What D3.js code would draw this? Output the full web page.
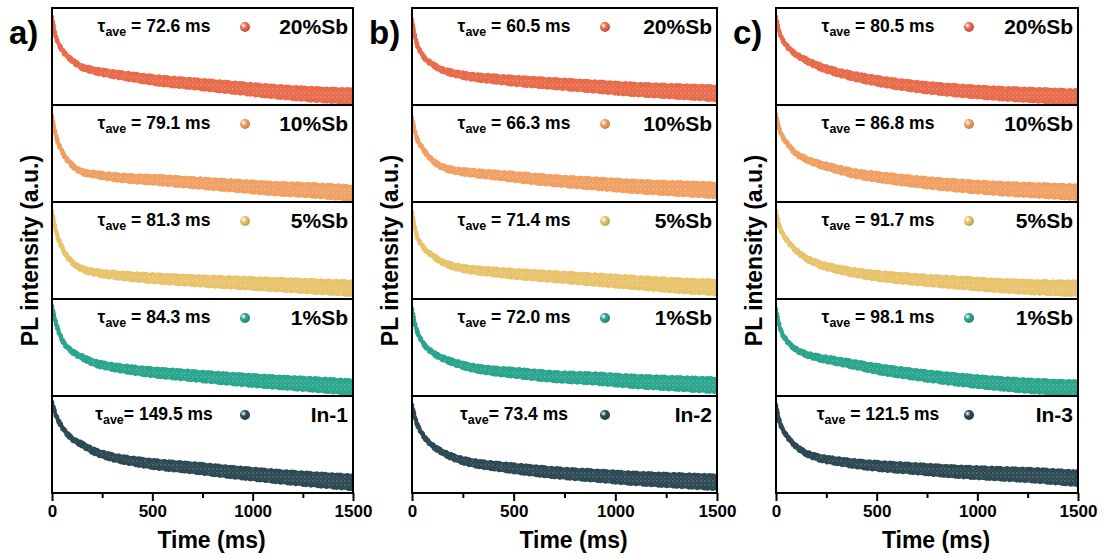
<!DOCTYPE html>
<html><head><meta charset="utf-8">
<script src="https://cdn.jsdelivr.net/npm/d3@7"></script>
<style>
html,body{margin:0;padding:0;background:#fff;}
svg text{font-family:"Liberation Sans",Arial,sans-serif;font-weight:bold;fill:#000;}
</style></head>
<body><svg id="chart" width="1106" height="559"></svg>
<script>
// ---- data (normalized intensity within each stacked sub-panel, 0 = bottom, 1 = top) ----
const timesMs = [0, 20, 50, 100, 150, 200, 300, 400, 500, 700, 900, 1100, 1300, 1500];
const spreadFrac = [0.008, 0.01, 0.012, 0.016, 0.02, 0.024, 0.03, 0.035, 0.04, 0.046, 0.052, 0.058, 0.064, 0.07];
const xTicksMajor = [0, 500, 1000, 1500];
const xTicksMinor = [250, 750, 1250];
const sampleNames = ["20%Sb", "10%Sb", "5%Sb", "1%Sb"];
const undopedNames = ["In-1", "In-2", "In-3"];
const panelLetters = ["a)", "b)", "c)"];
const sampleColors = ["#e86b4b", "#f1a063", "#e9c36c", "#2aa58e", "#2c4954"];

const tauA = [" = 72.6 ms", " = 79.1 ms", " = 81.3 ms", " = 84.3 ms", "= 149.5 ms"];
const tauB = [" = 60.5 ms", " = 66.3 ms", " = 71.4 ms", " = 72.0 ms", "= 73.4 ms"];
const tauC = [" = 80.5 ms", " = 86.8 ms", " = 91.7 ms", " = 98.1 ms", " = 121.5 ms"];

const decayA20 = [0.90, 0.70, 0.57, 0.46, 0.39, 0.36, 0.32, 0.29, 0.26, 0.22, 0.18, 0.14, 0.11, 0.09];
const decayA10 = [0.88, 0.68, 0.52, 0.38, 0.31, 0.29, 0.26, 0.24, 0.23, 0.20, 0.17, 0.14, 0.12, 0.09];
const decayA5  = [0.90, 0.70, 0.53, 0.38, 0.31, 0.28, 0.25, 0.23, 0.215, 0.19, 0.17, 0.15, 0.13, 0.11];
const decayA1  = [0.92, 0.75, 0.58, 0.46, 0.40, 0.35, 0.30, 0.27, 0.245, 0.21, 0.175, 0.145, 0.12, 0.09];
const decayAIn = [0.93, 0.80, 0.68, 0.56, 0.50, 0.44, 0.37, 0.33, 0.30, 0.26, 0.215, 0.175, 0.14, 0.11];

const decayB20 = [0.87, 0.66, 0.52, 0.42, 0.36, 0.33, 0.29, 0.27, 0.25, 0.22, 0.19, 0.16, 0.14, 0.12];
const decayB10 = [0.87, 0.68, 0.56, 0.43, 0.36, 0.33, 0.30, 0.28, 0.26, 0.22, 0.19, 0.16, 0.14, 0.12];
const decayB5  = [0.89, 0.68, 0.55, 0.45, 0.38, 0.34, 0.30, 0.28, 0.26, 0.23, 0.20, 0.17, 0.14, 0.12];
const decayB1  = [0.89, 0.70, 0.56, 0.45, 0.39, 0.35, 0.29, 0.26, 0.24, 0.20, 0.18, 0.15, 0.13, 0.11];
const decayBIn = [0.90, 0.74, 0.61, 0.49, 0.42, 0.37, 0.31, 0.28, 0.255, 0.21, 0.18, 0.15, 0.13, 0.11];

const decayC20 = [0.90, 0.73, 0.62, 0.52, 0.46, 0.41, 0.34, 0.29, 0.25, 0.19, 0.15, 0.12, 0.10, 0.08];
const decayC10 = [0.90, 0.73, 0.62, 0.50, 0.44, 0.40, 0.34, 0.29, 0.26, 0.21, 0.17, 0.14, 0.12, 0.10];
const decayC5  = [0.90, 0.73, 0.62, 0.50, 0.42, 0.37, 0.31, 0.27, 0.24, 0.20, 0.17, 0.14, 0.12, 0.11];
const decayC1  = [0.89, 0.70, 0.58, 0.48, 0.43, 0.40, 0.36, 0.32, 0.28, 0.22, 0.17, 0.13, 0.10, 0.08];
const decayCIn = [0.90, 0.72, 0.60, 0.48, 0.41, 0.37, 0.33, 0.30, 0.28, 0.25, 0.22, 0.20, 0.18, 0.15];

const panels = [
  {letter: panelLetters[0], x0: 52, x1: 353, taus: tauA, last: undopedNames[0],
   curves: [decayA20, decayA10, decayA5, decayA1, decayAIn]},
  {letter: panelLetters[1], x0: 412, x1: 717, taus: tauB, last: undopedNames[1],
   curves: [decayB20, decayB10, decayB5, decayB1, decayBIn]},
  {letter: panelLetters[2], x0: 776, x1: 1078, taus: tauC, last: undopedNames[2],
   curves: [decayC20, decayC10, decayC5, decayC1, decayCIn]}
];

// ---- drawing ----
const svg = d3.select("#chart");
const plotTop = 8, plotBottom = 493, nSub = 5;
const subH = (plotBottom - plotTop) / nSub;
const defs = svg.append("defs");

const pat = defs.append("pattern").attr("id", "speckle").attr("width", 4).attr("height", 4)
  .attr("patternUnits", "userSpaceOnUse");
pat.append("circle").attr("cx", 1).attr("cy", 1).attr("r", 0.7).attr("fill", "#fff").attr("opacity", 0.4);
pat.append("circle").attr("cx", 3).attr("cy", 3).attr("r", 0.6).attr("fill", "#fff").attr("opacity", 0.25);

sampleColors.forEach((c, i) => {
  const g = defs.append("radialGradient").attr("id", "sph" + i)
    .attr("cx", "35%").attr("cy", "35%").attr("r", "65%");
  g.append("stop").attr("offset", "0%").attr("stop-color", "#fff");
  g.append("stop").attr("offset", "45%").attr("stop-color", c);
  g.append("stop").attr("offset", "100%").attr("stop-color", d3.color(c).darker(0.6));
});

panels.forEach((p, pi) => {
  const g = svg.append("g");
  const x = d3.scaleLinear().domain([0, 1500]).range([p.x0, p.x1]);

  p.curves.forEach((vals, si) => {
    const t = plotTop + si * subH, b = t + subH;
    const y = d3.scaleLinear().domain([0, 1]).range([b, t]);
    const clipId = `clip${pi}_${si}`;
    defs.append("clipPath").attr("id", clipId).append("rect")
      .attr("x", p.x0).attr("y", t).attr("width", p.x1 - p.x0).attr("height", subH);
    const rows = timesMs.map((tm, k) => ({t: tm, v: vals[k], s: spreadFrac[k]}));
    const area = d3.area().curve(d3.curveMonotoneX)
      .x(d => x(d.t)).y0(d => y(d.v - d.s)).y1(d => y(d.v + d.s));
    const cg = g.append("g").attr("clip-path", `url(#${clipId})`);
    const col = sampleColors[si];
    cg.append("path").datum(rows).attr("d", area).attr("fill", col)
      .attr("stroke", col).attr("stroke-width", 3).attr("stroke-linejoin", "round");
    cg.append("path").datum(rows).attr("d", area).attr("fill", "url(#speckle)");
    cg.append("path").datum(rows).attr("d", area).attr("fill", "none")
      .attr("stroke", col).attr("stroke-width", 4.5).attr("stroke-linecap", "round")
      .attr("stroke-dasharray", "0.1 5 0.1 3 0.1 7");

    const name = si < 4 ? sampleNames[si] : p.last;
    g.append("circle").attr("cx", p.x0 + 193).attr("cy", t + 19).attr("r", 5)
      .attr("fill", `url(#sph${si})`);
    g.append("text").attr("x", p.x1 - 5).attr("y", t + 26).attr("text-anchor", "end")
      .attr("font-size", 21).text(name);
    const tx = g.append("text").attr("x", p.x0 + 102).attr("y", t + 24)
      .attr("text-anchor", "middle").attr("font-size", 17.5);
    tx.append("tspan").text("τ");
    tx.append("tspan").attr("font-size", 12.5).attr("dy", 4).text("ave");
    tx.append("tspan").attr("dy", -4).text(p.taus[si]);

    if (si > 0) {
      g.append("line").attr("x1", p.x0).attr("x2", p.x1).attr("y1", t).attr("y2", t)
        .attr("stroke", "#000").attr("stroke-width", 2);
    }
  });

  g.append("rect").attr("x", p.x0).attr("y", plotTop).attr("width", p.x1 - p.x0)
    .attr("height", plotBottom - plotTop).attr("fill", "none").attr("stroke", "#000").attr("stroke-width", 2);

  const axMajor = d3.axisBottom(x).tickValues(xTicksMajor).tickSize(8).tickPadding(4).tickFormat(d3.format("d"));
  const ax = g.append("g").attr("transform", `translate(0,${plotBottom})`).call(axMajor);
  ax.select(".domain").remove();
  ax.selectAll(".tick line").attr("stroke", "#000").attr("stroke-width", 2);
  ax.selectAll(".tick text").attr("font-size", 17).attr("font-family", "Liberation Sans, Arial, sans-serif")
    .attr("font-weight", "bold").attr("fill", "#000");
  const axMinor = d3.axisBottom(x).tickValues(xTicksMinor).tickSize(5).tickFormat("");
  const axm = g.append("g").attr("transform", `translate(0,${plotBottom})`).call(axMinor);
  axm.select(".domain").remove();
  axm.selectAll(".tick line").attr("stroke", "#000").attr("stroke-width", 2);

  g.append("text").attr("x", (p.x0 + p.x1) / 2 + 9).attr("y", 548).attr("text-anchor", "middle")
    .attr("font-size", 23).text("Time (ms)");
  g.append("text").attr("transform", `translate(${p.x0 - 14},${(plotTop + plotBottom) / 2}) rotate(-90)`)
    .attr("text-anchor", "middle").attr("font-size", 23).text("PL intensity (a.u.)");
  g.append("text").attr("x", p.x0 - 43).attr("y", 44).attr("font-size", 33).text(p.letter);
});
</script></body></html>
